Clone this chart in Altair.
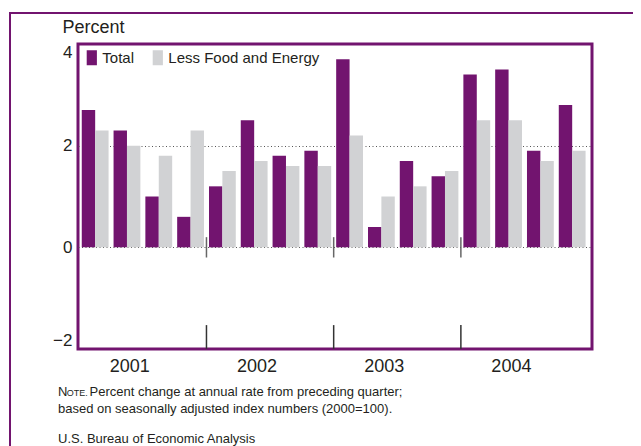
import altair as alt
import pandas as pd

# ---------------- data ----------------
quarters = [
    "2001 Q1", "2001 Q2", "2001 Q3", "2001 Q4",
    "2002 Q1", "2002 Q2", "2002 Q3", "2002 Q4",
    "2003 Q1", "2003 Q2", "2003 Q3", "2003 Q4",
    "2004 Q1", "2004 Q2", "2004 Q3", "2004 Q4",
]
total = [2.7, 2.3, 1.0, 0.6, 1.2, 2.5, 1.8, 1.9, 3.7, 0.4, 1.7, 1.4, 3.4, 3.5, 1.9, 2.8]
less_food_energy = [2.3, 2.0, 1.8, 2.3, 1.5, 1.7, 1.6, 1.6, 2.2, 1.0, 1.2, 1.5, 2.5, 2.5, 1.7, 1.9]
series_names = ["Total", "Less Food and Energy"]
year_label_quarters = ["2001 Q3", "2002 Q3", "2003 Q3", "2004 Q3"]
separator_quarters = ["2002 Q1", "2003 Q1", "2004 Q1"]
y_ticks = [-2, 0, 2, 4]
note_head_cap = "N"
note_head_small = "OTE."
note_line1 = "Percent change at annual rate from preceding quarter;"
note_line2 = "based on seasonally adjusted index numbers (2000=100)."
source_line = "U.S. Bureau of Economic Analysis"

# ---------------- styles ----------------
PURPLE = "#72146F"
GREY = "#D1D2D4"
INK = "#231F20"
FONT = "Liberation Sans"

bars_df = pd.DataFrame({
    "quarter": quarters + quarters,
    "series": [series_names[0]] * len(quarters) + [series_names[1]] * len(quarters),
    "value": total + less_food_energy,
})
sep_df = pd.DataFrame({"quarter": separator_quarters})

x_scale = alt.Scale(domain=quarters, paddingInner=0.157, paddingOuter=0.16, align=0.37)
y_scale = alt.Scale(domain=[-2, 4], nice=False, zero=False)

bars = alt.Chart(bars_df).mark_bar().encode(
    x=alt.X(
        "quarter:O",
        scale=x_scale,
        axis=alt.Axis(
            values=year_label_quarters,
            labelExpr="slice(datum.label, 0, 4)",
            labelOffset=-29,
            labelPadding=8,
            labelFont=FONT,
            labelFontSize=18,
            labelColor=INK,
            labelAngle=0,
            domain=False,
            ticks=False,
            grid=False,
            title=None,
        ),
    ),
    xOffset=alt.XOffset(
        "series:N",
        scale=alt.Scale(domain=series_names, paddingInner=0, paddingOuter=0),
    ),
    y=alt.Y(
        "value:Q",
        scale=y_scale,
        axis=alt.Axis(
            values=y_ticks,
            title="Percent",
            titleAngle=0,
            titleX=-16,
            titleY=-12,
            titleAlign="left",
            titleBaseline="alphabetic",
            titleFont=FONT,
            titleFontSize=18,
            titleFontWeight="normal",
            titleColor=INK,
            labelFlush=True,
            labelPadding=6,
            labelFont=FONT,
            labelFontSize=17,
            labelColor=INK,
            domain=False,
            ticks=False,
            grid=True,
            gridDash=[1, 2.5],
            gridColor="#555555",
            gridOpacity={"condition": {"test": "datum.value === 0 || datum.value === 2", "value": 1}, "value": 0},
        ),
    ),
    color=alt.Color(
        "series:N",
        scale=alt.Scale(domain=series_names, range=[PURPLE, GREY]),
        legend=alt.Legend(
            title=None,
            orient="none",
            legendX=6.3,
            legendY=6,
            direction="horizontal",
            symbolType="M-0.68,-1H0.68V1H-0.68Z",
            symbolSize=225,
            symbolStrokeWidth=0,
            labelFont=FONT,
            labelFontSize=15,
            labelColor=INK,
            labelOffset=3,
            labelLimit=300,
            columnPadding=16,
            padding=0,
        ),
    ),
)

zero_ticks = alt.Chart(sep_df).mark_rule(xOffset=-2.5, color="#666666", strokeWidth=1.5).encode(
    x=alt.X("quarter:O", scale=x_scale, bandPosition=0),
    y=alt.datum(0.2),
    y2=alt.datum(-0.2),
)
bottom_ticks = alt.Chart(sep_df).mark_rule(xOffset=-2.5, color="#333333", strokeWidth=1.5).encode(
    x=alt.X("quarter:O", scale=x_scale, bandPosition=0),
    y=alt.datum(-2),
    y2=alt.datum(-1.53),
)


def text_layer(text, x, y, size):
    return alt.Chart(pd.DataFrame({"t": [text]})).mark_text(
        align="left", baseline="alphabetic", font=FONT, fontSize=size, color=INK
    ).encode(x=alt.value(x), y=alt.value(y), text="t:N")


notes = [
    text_layer(note_head_cap, -20, 352, 13),
    text_layer(note_head_small, -11.2, 352, 9),
    text_layer(note_line1, 11.5, 352, 13),
    text_layer(note_line2, -20, 368.7, 13),
    text_layer(source_line, -20, 398.7, 13),
]

frame = alt.Chart(pd.DataFrame({"a": [0]})).mark_rect(
    fillOpacity=0, stroke=PURPLE, strokeWidth=2
).encode(x=alt.value(-68), x2=alt.value(700), y=alt.value(-31), y2=alt.value(600))

chart = alt.layer(frame, bars, zero_ticks, bottom_ticks, *notes).properties(
    width=514,
    height=305,
    padding={"left": 70, "top": 36, "right": 41, "bottom": 97},
    autosize=alt.AutoSizeParams(type="none"),
    background="white",
).configure_view(stroke=PURPLE, strokeWidth=3)

chart.save("out.html", embed_options={"renderer": "svg", "actions": False})
